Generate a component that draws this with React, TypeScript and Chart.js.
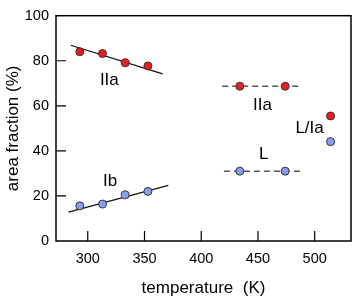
import { useEffect, useRef } from "react";
import { Chart, registerables } from "chart.js";

Chart.register(...registerables);

// Measured points
const iiaTemps = [293, 313, 333, 353];
const iiaValues = [84.0, 83.2, 79.1, 77.7];
const ibTemps = [293, 313, 333, 353];
const ibValues = [15.6, 16.4, 20.5, 22.0];
const highIIaTemps = [434, 474];
const highIIaValues = [68.7, 68.7];
const highLTemps = [434, 474];
const highLValues = [31.0, 31.0];
const liaRedTemps = [514];
const liaRedValues = [55.5];
const liaBlueTemps = [514];
const liaBlueValues = [44.1];

// Guide lines
const fitIIaTemps = [285, 366];
const fitIIaValues = [86.9, 74.2];
const fitIbTemps = [283, 371];
const fitIbValues = [12.85, 24.7];
const dashIIaTemps = [418.5, 488.5];
const dashIIaValues = [68.7, 68.7];
const dashLTemps = [420, 487.5];
const dashLValues = [31.0, 31.0];

// Axes
const xTicks = [300, 350, 400, 450, 500];
const yTicks = [0, 20, 40, 60, 80, 100];
const xMin = 272;
const xMax = 532;
const yMin = 0;
const yMax = 100;

// Annotations
const labelTexts = ["IIa", "IIa", "L/Ia", "L", "Ib"];
const labelTemps = [319, 454, 495.5, 455, 319.6];
const labelValues = [71.3, 60.3, 49.8, 38.4, 26.5];

const FONT = "'Liberation Sans', Arial, sans-serif";
const RED = "#ee1c1c";
const BLUE = "#8c9cf2";

const pts = (xs: number[], ys: number[]) => xs.map((x, i) => ({ x, y: ys[i] }));

const framePlugin = {
  id: "frameTicks",
  afterDatasetsDraw(chart: any) {
    const { ctx, chartArea } = chart;
    const xs = chart.scales.x;
    const ys = chart.scales.y;
    ctx.save();
    ctx.strokeStyle = "#000";
    ctx.lineWidth = 1.5;
    ctx.strokeRect(chartArea.left, chartArea.top, chartArea.right - chartArea.left, chartArea.bottom - chartArea.top);
    ctx.lineWidth = 1.2;
    ctx.beginPath();
    xTicks.forEach((v) => {
      const px = xs.getPixelForValue(v);
      ctx.moveTo(px, chartArea.bottom);
      ctx.lineTo(px, chartArea.bottom - 10);
    });
    yTicks.forEach((v) => {
      if (v === yMin || v === yMax) return;
      const py = ys.getPixelForValue(v);
      ctx.moveTo(chartArea.left, py);
      ctx.lineTo(chartArea.left + 10, py);
    });
    ctx.stroke();
    ctx.fillStyle = "#000";
    ctx.font = `17px ${FONT}`;
    ctx.textAlign = "center";
    ctx.textBaseline = "middle";
    labelTexts.forEach((t, i) => {
      ctx.fillText(t, xs.getPixelForValue(labelTemps[i]), ys.getPixelForValue(labelValues[i]));
    });
    ctx.restore();
  },
};

export default function App() {
  const ref = useRef<HTMLCanvasElement>(null);
  useEffect(() => {
    document.body.style.margin = "0";
    if (!ref.current) return;
    const pointDs = (label: string, xs: number[], ys: number[], color: string) => ({
      type: "scatter" as const,
      label,
      data: pts(xs, ys),
      backgroundColor: color,
      borderColor: "#333",
      borderWidth: 1,
      pointRadius: 4,
      showLine: false,
    });
    const lineDs = (label: string, xs: number[], ys: number[], dashed: boolean) => ({
      type: "scatter" as const,
      label,
      data: pts(xs, ys),
      showLine: true,
      pointRadius: 0,
      borderColor: dashed ? "#555" : "#111",
      borderWidth: dashed ? 1.5 : 1.2,
      borderDash: dashed ? [6, 4] : [],
      fill: false,
    });
    const chart = new Chart(ref.current, {
      type: "scatter",
      data: {
        datasets: [
          pointDs("IIa", iiaTemps, iiaValues, RED),
          pointDs("Ib", ibTemps, ibValues, BLUE),
          pointDs("IIa high", highIIaTemps, highIIaValues, RED),
          pointDs("L", highLTemps, highLValues, BLUE),
          pointDs("L/Ia red", liaRedTemps, liaRedValues, RED),
          pointDs("L/Ia blue", liaBlueTemps, liaBlueValues, BLUE),
          lineDs("fit IIa", fitIIaTemps, fitIIaValues, false),
          lineDs("fit Ib", fitIbTemps, fitIbValues, false),
          lineDs("dash IIa", dashIIaTemps, dashIIaValues, true),
          lineDs("dash L", dashLTemps, dashLValues, true),
        ],
      },
      options: {
        animation: false,
        responsive: false,
        layout: { padding: { left: 0, right: 3, top: 4, bottom: 0 } },
        plugins: { legend: { display: false }, tooltip: { enabled: false } },
        scales: {
          x: {
            type: "linear",
            min: xMin,
            max: xMax,
            grid: { display: false, drawTicks: false },
            border: { display: false },
            afterBuildTicks: (s: any) => {
              s.ticks = xTicks.map((v) => ({ value: v }));
            },
            afterFit: (s: any) => {
              s.height = 58;
            },
            ticks: {
              color: "#000",
              padding: 9,
              font: { family: FONT, size: 14.5 },
              maxRotation: 0,
            },
            title: {
              display: true,
              text: "temperature  (K)",
              color: "#000",
              font: { family: FONT, size: 17 },
              padding: { top: 0, bottom: 0 },
            },
          },
          y: {
            type: "linear",
            min: yMin,
            max: yMax,
            grid: { display: false, drawTicks: false },
            border: { display: false },
            afterBuildTicks: (s: any) => {
              s.ticks = yTicks.map((v) => ({ value: v }));
            },
            afterFit: (s: any) => {
              s.width = 56;
            },
            ticks: {
              color: "#000",
              padding: 7,
              font: { family: FONT, size: 14.5 },
            },
            title: {
              display: true,
              text: "area fraction (%)",
              color: "#000",
              font: { family: FONT, size: 17 },
              padding: { top: 3, bottom: 0 },
            },
          },
        },
      },
      plugins: [framePlugin],
    });
    return () => chart.destroy();
  }, []);
  return (
    <div style={{ width: 356, height: 299 }}>
      <canvas ref={ref} width={356} height={299} style={{ display: "block" }} />
    </div>
  );
}
